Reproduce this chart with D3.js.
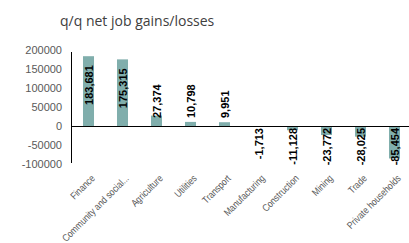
<!DOCTYPE html>
<html><head><meta charset="utf-8">
<script src="https://cdn.jsdelivr.net/npm/d3@7"></script>
<style>body{margin:0;background:#fff}svg{display:block}</style>
</head><body>
<svg id="c" width="409" height="243"></svg>
<script>
const categories = ["Finance","Community and social...","Agriculture","Utilities","Transport","Manufacturing","Construction","Mining","Trade","Private households"];
const values = [183681,175315,27374,10798,9951,-1713,-11128,-23772,-28025,-85454];
const yTicks = [200000,150000,100000,50000,0,-50000,-100000];
const title = "q/q net job gains/losses";

const loc = d3.formatLocale({decimal:".",thousands:",",grouping:[3],currency:["$",""],minus:"-"});
const svg = d3.select("#c");
const x = d3.scaleBand().domain(categories).range([71.5,411.5]).paddingInner(0.676).paddingOuter(0.338);
const y = d3.scaleLinear().domain([-100000,200000]).range([164,50]);
const fmt = loc.format(",");

svg.append("text").attr("x",60).attr("y",26).attr("font-family","Open Sans, sans-serif")
  .attr("font-size",14).attr("fill","#404040").text(title);

// y axis
const ya = svg.append("g").attr("transform","translate(71,0)")
  .call(d3.axisLeft(y).tickValues(yTicks).tickSize(0).tickPadding(9).tickFormat(loc.format("d")));
ya.select(".domain").attr("stroke","#000").attr("d","M0.5,52V163");
ya.selectAll("text").attr("font-family","Liberation Sans, Arial, sans-serif").attr("font-size",11).attr("fill","#595959");

// bars
svg.append("g").selectAll("rect").data(values).join("rect")
  .attr("x",(d,i)=>x(categories[i]))
  .attr("width",x.bandwidth())
  .attr("y",d=>y(Math.max(0,d)))
  .attr("height",d=>Math.abs(y(d)-y(0)))
  .attr("fill","#80aeac");

// zero line
svg.append("line").attr("x1",71).attr("x2",409).attr("y1",y(0)+0.5).attr("y2",y(0)+0.5).attr("stroke","#000").attr("stroke-width",1);

// labels
const lg = svg.append("g");
values.forEach((d,i)=>{
  const cx = x(categories[i]) + x.bandwidth()/2;
  const t = lg.append("text").attr("font-family","Liberation Sans, Arial, sans-serif")
    .attr("font-size",11).attr("font-weight","bold").attr("fill","#000").text(fmt(d));
  const len = t.node().getComputedTextLength();
  let top;
  if (d >= 0) top = Math.min(y(d)+9, y(0)-8-len);
  else top = y(0)+2;
  const bottom = top + len;
  t.attr("transform",`translate(${cx+4},${bottom}) rotate(-90)`);
});

// category labels
const xa = svg.append("g");
categories.forEach((c,i)=>{
  const cx = x(c) + x.bandwidth()/2;
  xa.append("text").attr("font-family","Liberation Sans, Arial, sans-serif").attr("font-size",10)
    .attr("fill","#595959").attr("text-anchor","end")
    .attr("transform",`translate(${cx+7},${179}) rotate(-45) scale(0.84,1)`).text(c);
});
</script>
</body></html>
